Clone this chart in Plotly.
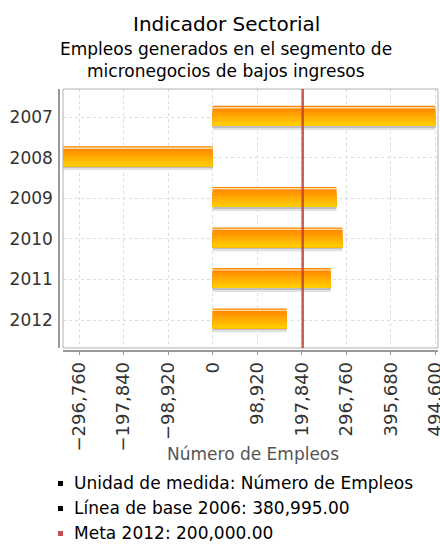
import plotly.graph_objects as go

# ---- data ----
years = ["2007", "2008", "2009", "2010", "2011", "2012"]
empleos = [494500, -333500, 274700, 288000, 262200, 164400]
x_tickvals = [-296760, -197840, -98920, 0, 98920, 197840, 296760, 395680, 494600]
meta_2012 = 200000
linea_base_2006 = 380995
unidad = "Número de Empleos"

title = "Indicador Sectorial"
subtitle1 = "Empleos generados en el segmento de"
subtitle2 = "micronegocios de bajos ingresos"
x_title = "Número de Empleos"

FONT = "DejaVu Sans"

fig = go.Figure()

# bar layers (offset start, offset end, colour) to imitate gradient bars;
# each layer is drawn over the previous one so there are no seams
BOTTOM = 0.205
layers = [(BOTTOM - 0.01, 0.265, "#BEBEBE"), (0.265, 0.30, "#E0E0E0"),
          (-0.285, BOTTOM, "#FF8A00"), (-0.255, BOTTOM, "#FFD9A6")]
n = 10
a = -0.22
c0, c1 = (255, 140, 0), (255, 204, 0)
for i in range(n):
    t = i / (n - 1)
    col = "rgb(%d,%d,%d)" % tuple(round(c0[k] + (c1[k] - c0[k]) * t) for k in range(3))
    s = a + (BOTTOM - a) * i / n
    layers.append((s, BOTTOM, col))

for s, e, col in layers:
    fig.add_trace(go.Bar(
        y=years, x=empleos, orientation="h",
        offset=s, width=e - s,
        marker=dict(color=col, line=dict(width=0)),
        hoverinfo="skip", showlegend=False,
    ))

fig.update_layout(
    width=440, height=545,
    margin=dict(l=59, r=2, t=89, b=194, autoexpand=False),
    paper_bgcolor="white", plot_bgcolor="white",
    barmode="overlay",
    showlegend=False,
    font=dict(family=FONT, size=17, color="#333"),
    xaxis=dict(
        domain=[4 / 379, 1],
        range=[-332600, 500600],
        tickvals=x_tickvals,
        tickformat=",d",
        tickangle=-90,
        tickfont=dict(size=18, color="#333"),
        ticks="outside", ticklen=3, tickcolor="#999",
        ticklabeloverflow="allow",
        automargin=False,
        showgrid=True, gridcolor="#dcdcdc", griddash="dot", gridwidth=1,
        zeroline=False,
        showline=True, linecolor="#999", linewidth=1.5,
        anchor="free", position=0,
    ),
    yaxis=dict(
        domain=[3 / 262, 1],
        type="category",
        range=[5.69, -0.70],
        tickfont=dict(size=17, color="#333"),
        automargin=False,
        showgrid=True, gridcolor="#dcdcdc", griddash="dot", gridwidth=1,
        zeroline=False,
        showline=True, linecolor="#999", linewidth=1.5,
        ticks="", ticklabelstandoff=2,
        anchor="free", position=0,
    ),
)

# plot frame
fig.add_shape(type="rect", xref="x domain", yref="y domain", x0=0, x1=1, y0=0, y1=1,
              line=dict(color="#b0b0b0", width=1), layer="above")
# target line
fig.add_shape(type="line", xref="x", yref="y domain", x0=meta_2012, x1=meta_2012, y0=0, y1=1,
              line=dict(color="rgba(196,62,52,0.85)", width=2.5), layer="above")

# titles
fig.add_annotation(text=title, xref="paper", yref="paper", x=0.442, y=1.248,
                   showarrow=False, xanchor="center", yanchor="middle",
                   font=dict(size=20, color="#000", family=FONT))
fig.add_annotation(text=subtitle1, xref="paper", yref="paper", x=0.44, y=1.152,
                   showarrow=False, xanchor="center", yanchor="middle",
                   font=dict(size=17, color="#000", family=FONT))
fig.add_annotation(text=subtitle2, xref="paper", yref="paper", x=0.44, y=1.067,
                   showarrow=False, xanchor="center", yanchor="middle",
                   font=dict(size=17, color="#000", family=FONT))
fig.add_annotation(text=x_title, xref="paper", yref="paper", x=0.513, y=-0.392,
                   showarrow=False, xanchor="center", yanchor="middle",
                   font=dict(size=17, color="#555", family=FONT))

# legend-like list
items = [
    ("Unidad de medida: " + unidad, "#000"),
    ("Línea de base 2006: {:,.2f}".format(linea_base_2006), "#000"),
    ("Meta 2012: {:,.2f}".format(meta_2012), "#C0504D"),
]
for i, (txt, col) in enumerate(items):
    py = 483 + 25 * i
    yp = (351 - py) / 262
    fig.add_annotation(text=txt, xref="paper", yref="paper", x=(72 - 59) / 379, y=yp,
                       showarrow=False, xanchor="left", yanchor="middle",
                       font=dict(size=17, color="#000", family=FONT))
    fig.add_shape(type="rect", xref="paper", yref="paper",
                  x0=(58 - 59) / 379, x1=(63 - 59) / 379,
                  y0=(351 - (py + 3)) / 262, y1=(351 - (py - 2)) / 262,
                  fillcolor=col, line=dict(width=0))

fig.write_html("out.html", config={"displayModeBar": False},
               post_script="document.body.style.margin='0';document.body.style.padding='0';")
